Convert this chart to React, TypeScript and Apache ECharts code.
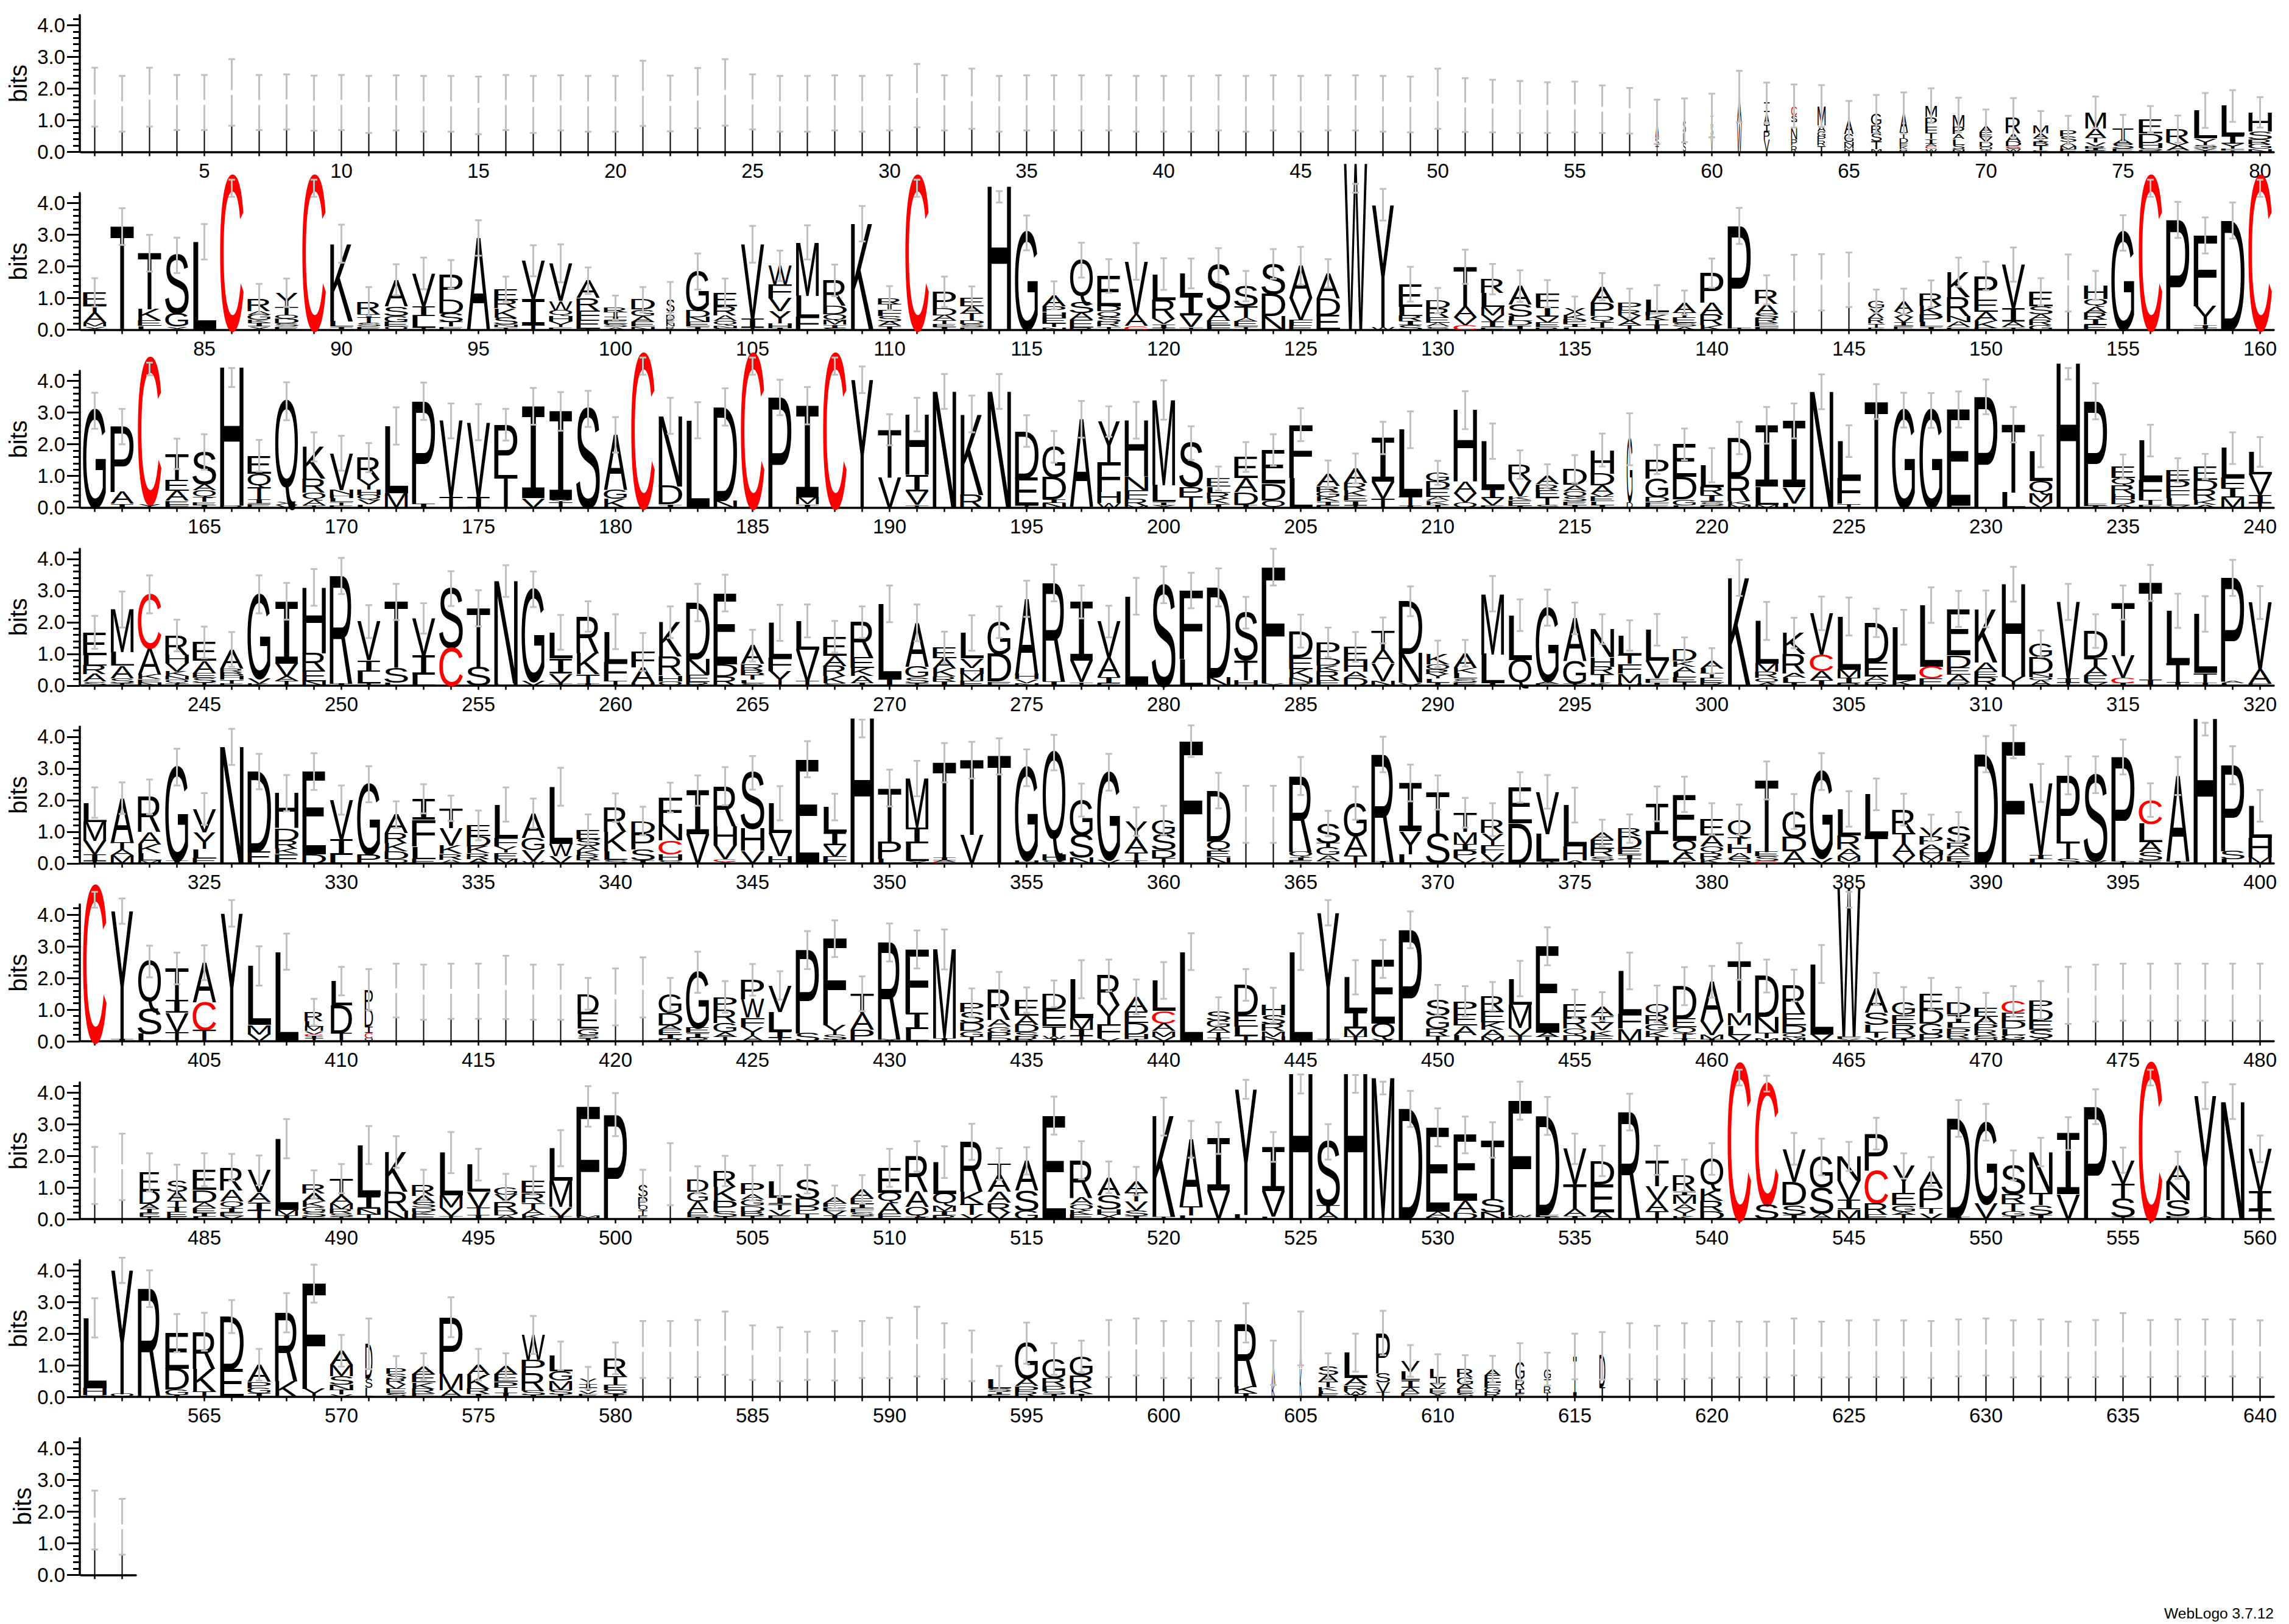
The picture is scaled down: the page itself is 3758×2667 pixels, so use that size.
import React, { useEffect, useRef } from "react";
import * as echarts from "echarts";

// Each entry lists one column from top to bottom: letter + height in 1/100 bit. "|n" is a hairline column of height n.
const row1Stacks = ["|173","|152","|173","|156","|156","|188","|156","|158","|154","|156","|150","|155","|152","|152","|147","|156","|150","|155","|152","|152","|185","|153","|170","|188","|158","|152","|152","|155","|152","|155","|178","|155","|168","|152","|155","|155","|155","|155","|152","|152","|152","|155","|152","|155","|152","|155","|155","|152","|150","|168","|148","|145","|142","|140","|142","|135","|130","A50S25T20","S40L30S30","I30S35V50","A85W90","I30A40I20P25V40","C30S20I20N35P20R20","M60A20G15P15R15T20","A45G25N12M10N10","G35R25S25T25M10","A60T20D15E10K10R8","M35P30F20T20I15A8C8W10","M38P22A15L18S15N8","A20E15V15D15Q12S5","R50A25D15C5S5W8","M25A15I12B12T15E5","P20S18A12M10F5E4","M50A30T15V12R8I6E4","T35A15S15E10","E45D30H15S8R5","R42V10A15T5","L88Y20S8I5V5T5","L95I25Y15F5T5","H60S25R15G15N10"];
const row1Err = [.93,.88,.93,.87,.87,1.05,.87,.87,.87,.87,.9,.87,.88,.88,.91,.87,.9,.87,.88,.88,1.03,.88,.95,1.05,.87,.88,.88,.87,.88,.87,1,.87,.95,.88,.87,.87,.87,.87,.88,.88,.88,.87,.88,.87,.88,.87,.87,.88,.88,.95,.85,.83,.82,.8,.8,.75,.72,.7,.69,.69,.81,.64,.68,.66,.59,.6,.65,.55,.55,.52,.62,.45,.45,.5,.42,.42,.43,.55,.5,.48];
const row2Stacks = ["E42T22A32M12X10","T326","T176K36E18L12","S183G42X10","L278","C484","R38A12G16K10I12X10","Y45T24Q14D14S10E10","C484","K244L18I10","R40I12T16S12E10","A84S30G20E14Q10","V104I30L36T8","P79D44S28T14E10","A290","E34R26K30S22N8T8","V122I82T14","V118W30Q18H18Y18E8","A55R38F30E28T4","R14T14I12E12S10A8","D31G20A20E14N10","S38I10D16E10N10R10","G122D22N16E14I10","E42R28A18Q14N8S6","V236I28T6","W58F44V42Y38H14I6","M168L66F42","R80D26Q20M14I10S6","K335","R20T16F20S18A14I12","C484","P52D22A16T12E10I8","E26A22T22D12S10E8","H453","G306","A35P18H20E16T12N8","Q132S34A22E24R8","E96D16Q18S16R14T10","V168A36C12","L82R58V18I12T6","L68I64V38T8","S140A36E14F14","S64T36A12E16T10","S94D70N44","A102V70F16E14","A78D54E46","W525","Y385W10","E70L30R16I14S14","D24R28E18A12S10","T126A34V24C15","R44L44M26V22I16E8","A58S38L14D14I14","F42I30V20E14R8","X22K14P14I10L8","A50P42Q18T18E8","P22R16V18A14T14","L38F12K16T14I16","A32T16E16S12A10","P93A38R34K14","P322T6","R44A32S14R14E12F10","|147","|150","|158","G22X30R18T12E8","A32X18V16I12E12","R38K28P24L14I10","K78R60N20A16E8","P74E38A30K22E6","V138I42A18T8","E46S24A18R18G14","|148","H42Q24A20R22I16E16","G306","C484","P347","F224Y58I10T6","D345","C484"];
const row2Err = [.45,.58,.58,.56,.56,.27,.47,.45,.27,.6,.45,.49,.5,.45,.56,.4,.49,.6,.42,.38,.4,.57,.57,.46,.58,.48,.54,.5,.56,.38,.27,.48,.37,.18,.55,.44,.55,.53,.58,.5,.47,.54,.48,.47,.6,.45,.14,.5,.55,.4,.54,.48,.5,.43,.37,.43,.46,.45,.38,.46,.57,.46,.9,.89,.86,.37,.4,.42,.46,.45,.54,.43,.9,.46,.56,.27,.57,.57,.57,.27];
const row3Stacks = ["G306","P206A38I12","C459Y12","T82E34A32E12F10","S100A20Q24T14E10I8","H436R8","E56Q44T38I14E12","Q316X10V10","K100R44Q22A18T8","V116N14H12L12T10E8","R68Y32H18Q16V14L10","L212M46","P322I14","V240T34","V236I34","P158T104","I290V30","I280Y8T16","S312","A174G28K28","C484","N222D58I10","L276","D296N22","C484","P348","I290M22I10","C484","Y404","T150V96","H190I52V44T8","N367","K254R42","N367","D148E88T6","G96D70I12N14","A274I5","Y130F92H36W14","H178N44F26R22M6","M268L54I10X8","S138P30T36","E26L18R20K16I12","E66A44D40I10","E106D52Q24","F168L94","A38R18G16K14I12E8","A46R22K20E14I14T8","I138V54T28","L210T30I6","G26D24E26A12K12I10","H226A36V30Q16","L152I28V22E8","R50V50K12E18I6","A26R20E22T22S10","D50A20Q18S14E12I8","H74D38A26V10E14L12I8","G200D16","P60G60D14F10E8","E102D72G18L8","L68R26I22S10E8","D120R78K12M10","I194L56M10","I210V50L14","N366","L118F80T12","T335","G308","G307","E302F8","P350","T214L48","L94Q40M28V16","H456","P322E8I6","E36Q24R26H18D16A10","L124F64T14E10","E32P32F24L22V8","E42D32R32K14A10","L92F34I30M32","L70V66I26T14"];
const row3Err = [.57,.56,.2,.48,.56,.3,.5,.6,.46,.55,.46,.59,.59,.55,.57,.5,.58,.61,.57,.56,.27,.57,.57,.59,.27,.56,.59,.27,.42,.49,.53,.55,.58,.55,.5,.5,.58,.48,.58,.62,.53,.38,.47,.5,.52,.43,.47,.51,.58,.38,.6,.56,.45,.37,.44,.52,.82,.46,.5,.54,.51,.58,.55,.55,.5,.55,.55,.55,.57,.55,.56,.5,.18,.57,.38,.5,.38,.4,.5,.47];
const row4Stacks = ["E72L32R28A24S12","M134L44A40S14T8","C170A84K14E10N10","R62H26V26K14N12Q10T8","E58A40E14S14T10","A60R12B12H12T12E6","G264V18K6","I196V42A14T14","H206R56E34N14","R340I6","V122I36L36T8","T208S46L10","V118I60L34","S186C120","T186S58","N322H8","G290V14","L82I48V30T8","R116K66T30I6","L96F60T14","F48A50H8","K108R60H18Q14","D178N50E22R12","E224D40R28","A58R20B16T14L10S8","L110F42Y46","L90V100T14","E60A32R32K22S8","R110E34K26A22I8","L238I20","A138G34S18T8","E34A32K26R14I14","L80V30H20M22E14","G100D88E12","A238H16V12N8","R310I14","I186V68T10","V114A62I18E8","L282","S318","F216L84","D284N26","S150T62H18","F366Y8","D84E36K28N14R10","P50D22K18R28E18","E44H34A20D24","T62A42V56N14","D166N92V8","K32Q18R14Y14L12I10","A46K18L16S12E10","M190L92I8","L140Q82","G232A8E6","A136G70T6","N88H30R24T26K10","L62T28F30M30H8","L98V56F12I10","D36K18A20L14E14T12","A24L16T14E14R10","K340","L134M26R20Q14A10","K66R62A14L14I10","V130C52A30I16","L168M26I16R8","D124E46A16R12","L166K18","L194C38E22","E146D40E22A24R10","K168A30E18R26","H292Y28","G42D52N12Q10A16","V240I14T10","D86T28A26E22V10","T168V70C16I8","T306I18","L166T58I12","L186T30I10","P326A6L8","V210A46E6"];
const row4Err = [.52,.57,.6,.5,.5,.55,.6,.58,.58,.57,.52,.57,.48,.55,.57,.5,.56,.55,.48,.55,.6,.5,.59,.58,.5,.57,.52,.5,.5,.58,.58,.5,.56,.5,.57,.58,.52,.5,.58,.58,.56,.6,.5,.58,.52,.47,.47,.41,.47,.42,.42,.56,.5,.57,.5,.47,.48,.5,.38,.4,.57,.6,.48,.53,.6,.45,.55,.56,.57,.58,.55,.42,.57,.53,.54,.57,.54,.56,.57,.52];
const row5Stacks = ["L60M60V44I20T8","A140T22A20M24","R110A40K28L22M10","G296I8","V74Y52L30E16","N368","D252E38","H110D40R26K16E30","E260D30","V124I50L26","G222P28","A58R32K26D24Q14","I66F84L40E14","T62V56K26R18A12","E34D32K22R18A14","L106F26Y20E20M14","A76G40V34W8","L180W40V22","E30S22A16K14R14T12","R76K62L26S12","D40P50S34I10","F84N52C42H20S10","I138V92","R126H60V44C8Y6","S176H70V40","L94V74H22","E329","L80I40V36F22","H459","T168P56L14","M154I50L56X8","T300I8A6C4","T236V90","T338","G292H10","Q320H20S10","G110S70N20","G276V12","Y54A44T26I8","G44S50D24T18","F386","D160Q30E20N20","|155","|155","R238Q18I10E10","S62T14G24A18T8","G104A62T24","R338I6","I152Y72L30","T132S92","T60M40I18P24V18","R42Y40F24V26Q6","E112D128","V132L88A6","L130H44A10","A22E28R24S12I10","R24D38E20I14T14","I96L92","E146Q38A26K8","E52A34Q20R20K14","Q56T22H28A16S16","T226E14S14C8","G80D46A38","G272V18","L84R44A22M14V8","L132T86","R74T36A36V24","V26P26A20H14M14W12","S50R20A22E18I6","D345","F384","V226I14L14","P208T56S14","S270V10","P330I6","C74L58A32S26E10","A270I6","H457","P270S26L14","L100H62M20"];
const row5Err = [.48,.5,.55,.58,.5,.57,.56,.57,.58,.46,.57,.42,.46,.4,.47,.54,.47,.6,.47,.45,.45,.47,.48,.6,.53,.54,.57,.42,.28,.58,.56,.62,.58,.57,.58,.56,.52,.58,.45,.46,.5,.56,.9,.9,.6,.4,.52,.56,.58,.54,.47,.52,.48,.53,.55,.42,.45,.55,.56,.5,.48,.6,.55,.58,.56,.5,.5,.42,.46,.57,.52,.6,.6,.58,.55,.53,.6,.2,.6,.5];
const row6Stacks = ["C490","Y405I6","Q150S78L24","T100I40V60T30","A124C88T36","Y400I4","L186M30V22","L283","R28L18M14V10C6I6T10","L76D88T26","P62D55I18C18Q10","|160","|155","|158","|158","|170","|155","|155","D62E48G20S10I10","|140","|170","G60D38A14E14I14R8","G176E16I14R12","P40R42G30A14T14","P62W58F30Y26A18","V84L62I18T12","P262S26","F272Y32S14I6","T62A52P36","R306X6","F200I52L38","M280I10","P30S34D26G18T14","R96A22G18P16D12","E50A28D24S14R14","D50E52T30W10I8","L122M36I20T18","R92Y62F44V10","A46E36D36H14T8","L96C40A24M18V14","L283","S28G22A16T16I12","D96E36L28T18","H32S28R22M18N14","L283","Y400I6","L108I54M26T14","E202Q52V6","P352","S50G40R24T16","P40E36A30L20","R46E36K24A22M14","L82M74V24T18","E272A14T14","E44R34Q20D20","A30I22V24K18E16","L136F46M40","Q34R30G20K20T14","D102E28Q20T14I10","A124V44M14I6","T162M40L30V20","D130N50T16M10","R88E38D24Q14M12","L222V22","W470F8Y8","A76S38L24T16V12","G40E30R30D14I10","E50D44G34P22","D38I26L16P18R14S10","E30A24P18R16S12Q8","C36E26D24L20G14B6","P30D34E30S26A10","|145","|152","|155","|155","|155","|155","|155","|155"];
const row6Err = [.25,.4,.5,.5,.55,.42,.62,.57,.42,.45,.65,.85,.87,.87,.87,1,.87,.87,.5,.9,.95,.52,.65,.5,.5,.45,.6,.58,.55,.6,.6,.63,.45,.55,.4,.42,.6,.5,.55,.58,.58,.45,.5,.55,.58,.4,.54,.6,.58,.48,.48,.45,.56,.6,.45,.45,.58,.58,.6,.5,.58,.52,.5,.6,.25,.5,.47,.5,.48,.45,.48,.6,.9,.9,.9,.9,.9,.9,.9,.9];
const row7Stacks = ["|138","|165","E58D42A14I14E12T8","S34A30T20I16E14E8","E64D40A18E14I12L8","R72A36Q20I14E12V10","V70A30I26T28","L224M18I12","R28A26K18G16S14E8","T54A26M16R14S10T8","L160I40N20T14","K124R62N26","R34A22S16D12K10E14","L134M40V26T10","L86V50T22I14","G22V22R30D14A12","E40R30T20A18K14","L102M84V30I8","F346M6Y4","P330","S36P28Q16T14E12","|142","D38G30A36E14I6","R50K44P34S16T8","P34A18G20D18B14T10","L50I22T18V18E12","S62D24P22T18","A20F12E12V14I12","A28E18I14F12S12T10","E78Q32A36F16","R112A48Q30T8","L100Q36M18I14R12","R156K40T34V14","T34A54A34R30V22","A94S64G26","E327","R118A22Q18K14E14","A56S44H18X14","A34T30V28S18I10","K316T8","A210T30L12","I166V90","Y396L14","I140V80L8","H460","S200T22A22","H460","M447","D348","E266A18N6","E208A38D20","T186S42N22","F362W6E6","D312E8I6","V112T78A22I10","D74E88A22","R338","T82V44A36T24","R50I12M28A18Y20K10","Q94K38R34D24","C490","C382S46","V104D74S30I14","G96S82A18","N76V62I30M30","P116C104R36E14","Y86E38G20A10T14","A54P60T18V18","D312I6","G256V50","S90R30T26G14I10","N128T40S30I14","I192V78","P355","V74T46S60T6","C492","A52N58S50E10","Y384A6","N371","V136I60T26"];
const row7Err = [.9,1.05,.6,.5,.52,.42,.47,.62,.44,.46,.6,.5,.48,.65,.5,.43,.45,.57,.64,.68,.5,.98,.43,.48,.55,.5,.45,.36,.45,.6,.48,.5,.57,.5,.43,.6,.6,.5,.45,.6,.58,.5,.3,.47,.3,.56,.28,.2,.57,.6,.58,.56,.6,.6,.48,.48,.58,.46,.5,.5,.25,.25,.5,.58,.46,.5,.4,.46,.58,.58,.47,.45,.52,.55,.4,.25,.43,.42,.55,.42];
const row8Stacks = ["L222H22Q6","Y390Q10","R342","E112D66G18I6","R116K72T18","D166E88","A54P20G16I12","R216K50","F332Y26","A46M34S26N18T14V8","D110S30L28","P18S18R16V14E14S12","A24E26K20R14E12","P178M52A22","A32K44R16I10","A26E24P18T16I14","W78P42R56S14I6","L48G30M30S14I8","Y18I12T10V10E10","R56T26E18Q14I8","|150","|150","|153","|170","|140","|135","|130","|130","|150","|155","|175","|145","|130","L30S10I10E8","G112A24P18R16","G62R24P16S10I8","G60R38K20I10","|153","|158","|150","|150","|150","R200K22I12","A68K40","A95K90","S26A22T16K12L10E10","L80A24R18W12I6","P126S30V32T14","V34L26I24A18E12","L28I18V16E14X12","R26G22A14E14S12","A20E22F16G16R14","G54R30I14E12","G30I24R20T14","I128","D100I30","|145","|140","|145","|150","|150","|150","|158","|150","|152","|153","|152","|150","|155","|158","|152","|155","|150","|153","|165","|153","|155","|155","|155","|152"];
const row8Err = [.62,.4,.58,.6,.6,.52,.5,.62,.6,.5,.8,.37,.42,.63,.5,.4,.6,.45,.35,.5,.9,.9,.9,1,.86,.85,.76,.78,.9,.95,1.1,.88,.8,.4,.65,.5,.5,.9,.9,.9,.9,.9,.62,.7,.85,.42,.6,.7,.5,.47,.44,.42,.6,.52,.72,.75,.88,.85,.88,.9,.88,.88,.9,.88,.9,.9,.9,.9,.9,.9,.9,.9,.88,.9,1,.9,.9,.9,.9,.9];
const row9Stacks = ["|173","|152"];
const row9Err = [.93,.88];

// Columns narrower than a full stack: position and its share of the full width.
const partialPositions = [58,59,60,61,62,63,64,65,66,67,68,69,70,71,72,73,74,75,102,146,147,217,409,410,411,419,483,484,501,503,571,572,579,604,605,606,608,609,610,611,612,613,614,615,616];
const partialWidths = [.15,.12,.1,.2,.25,.25,.35,.4,.45,.35,.5,.5,.55,.65,.65,.7,.9,.9,.35,.7,.85,.25,.8,.9,.35,.9,.85,.85,.4,.9,.3,.85,.8,.15,.1,.85,.6,.8,.7,.7,.7,.4,.3,.15,.25];

const rowStacks = [row1Stacks,row2Stacks,row3Stacks,row4Stacks,row5Stacks,row6Stacks,row7Stacks,row8Stacks,row9Stacks];
const rowErr = [row1Err,row2Err,row3Err,row4Err,row5Err,row6Err,row7Err,row8Err,row9Err];
const yMajorTicks = [0,1,2,3,4];
const yMinorTicks = [.2,.4,.6,.8,1.2,1.4,1.6,1.8,2.2,2.4,2.6,2.8,3.2,3.4,3.6,3.8,4.2];

const FONT = "Liberation Sans";
const MONO = "Liberation Mono";
const W = 3758, H = 2667;
const Y_MAX = 4.32;

// Ink extents (em) of the capitals, so a glyph fills the column exactly.
const INK: Record<string,[number,number]> = {
  A:[0,.667],B:[.08,.62],C:[.05,.68],D:[.08,.67],E:[.08,.62],F:[.08,.57],G:[.05,.72],H:[.08,.64],I:[.09,.51],
  K:[.07,.665],L:[.07,.52],M:[.07,.76],N:[.08,.64],P:[.08,.62],Q:[.04,.74],R:[.08,.7],S:[.05,.62],T:[.02,.59],
  V:[0,.667],W:[0,.944],X:[0,.667],Y:[0,.667],
};
// Glyph height (em) and how far its centre sits below the font's central line (em).
function glyphMetrics(ch: string): [number, number] {
  if (ch === "I") return [.66, -.0635];
  if (ch === "Q") return [.808, .0625];
  return [.688, 0];
}

function parseStack(s: string): [string, number][] {
  const out: [string, number][] = [];
  const re = /([A-Z])(\d+)/g;
  let m: RegExpExecArray | null;
  while ((m = re.exec(s))) out.push([m[1], +m[2] / 100]);
  return out;
}

function buildOption() {
  const grid: any[] = [], xAxis: any[] = [], yAxis: any[] = [], series: any[] = [];
  let first = 1;
  rowStacks.forEach((stacks, r) => {
    const zero = 249.5 + 292.1 * r;
    const n = r === 8 ? 2 : 80;
    const start = first;
    first += n;
    grid.push({ left: 133, top: zero - Y_MAX * 52, width: n * 45, height: Y_MAX * 52 });
    xAxis.push({
      type: "category", gridIndex: r, boundaryGap: true,
      data: stacks.map((_, i) => String(start + i)),
      axisLine: { show: true, onZero: false, lineStyle: { color: "#000", width: 3.5 } },
      axisTick: { show: true, alignWithLabel: true, interval: 0, length: 7, lineStyle: { color: "#000", width: 2.5 } },
      axisLabel: {
        show: r !== 8, margin: 14, fontSize: 33, fontFamily: FONT, color: "#000",
        interval: (_: number, v: string) => +v % 5 === 0,
      },
      splitLine: { show: false },
    });
    yAxis.push({
      type: "value", gridIndex: r, position: "left", offset: 2, min: 0, max: Y_MAX, name: "bits", nameLocation: "middle", nameRotate: 90, nameGap: 73,
      nameTextStyle: { fontSize: 40, fontFamily: FONT, color: "#000" },
      axisLine: { show: true, onZero: false, lineStyle: { color: "#000", width: 3.5 } },
      axisTick: { show: true, length: 21, customValues: yMajorTicks, lineStyle: { color: "#000", width: 3 } },
      axisLabel: { show: true, margin: 24, customValues: yMajorTicks, fontSize: 33, fontFamily: FONT, color: "#000", formatter: (v: number) => v.toFixed(1) },
      splitLine: { show: false },
    });
    yAxis.push({
      type: "value", gridIndex: r, position: "left", offset: 2, min: 0, max: Y_MAX,
      axisLine: { show: false },
      axisTick: { show: true, length: 11, customValues: yMinorTicks, lineStyle: { color: "#000", width: 3 } },
      axisLabel: { show: false },
      splitLine: { show: false },
    });
    const errs = rowErr[r];
    series.push({
      type: "custom", xAxisIndex: r, yAxisIndex: r * 2, coordinateSystem: "cartesian2d", silent: true, clip: false,
      data: stacks.map((_, i) => [i]),
      renderItem: (params: any, api: any) => {
        const i = params.dataIndex;
        const s = stacks[i];
        const e = errs[i];
        const pos = start + i;
        const children: any[] = [];
        const cx = api.coord([i, 0])[0];
        const y0 = api.coord([i, 0])[1];
        const bit = y0 - api.coord([i, 1])[1];
        const band = api.size([1, 0])[0];
        const thin = s[0] === "|";
        let total = 0;
        if (thin) {
          total = +s.slice(1) / 100;
          const lo = total - e;
          children.push({ type: "line", shape: { x1: cx, y1: y0, x2: cx, y2: y0 - lo * bit }, style: { stroke: "#000", lineWidth: 2 } });
        } else {
          const letters = parseStack(s);
          const k = partialPositions.indexOf(pos);
          const w = band * .85 * (k >= 0 ? partialWidths[k] : 1);
          for (const [, h] of letters) total += h;
          let top = total;
          for (const [ch, h] of letters) {
            const ink = INK[ch] || INK.A;
            const [cap, shift] = glyphMetrics(ch);
            const sx = w / ((ink[1] - ink[0]) * 100);
            const hPx = h * bit;
            const sy = hPx / (cap * 100);
            const cy = y0 - (top - h / 2) * bit;
            children.push({
              type: "text", silent: true,
              x: cx - w / 2 - ink[0] * 100 * sx,
              y: cy - shift * 100 * sy,
              scaleX: sx, scaleY: sy,
              style: {
                text: ch, fontSize: 100, fontFamily: ch === "I" ? MONO : FONT,
                fill: ch === "C" ? "#ff0000" : "#000",
                align: "left", verticalAlign: "middle",
              },
            });
            top -= h;
          }
        }
        const c = total > 4.35 ? Math.min(total - .33, 4.47) : total;
        const lo = y0 - (c - e) * bit, hi = y0 - (c + e) * bit, mid = y0 - c * bit;
        const gray = { stroke: "#c0c0c0", lineWidth: 3 };
        if (thin) {
          children.push({ type: "line", shape: { x1: cx, y1: lo, x2: cx, y2: mid + 4 }, style: gray });
          children.push({ type: "line", shape: { x1: cx, y1: mid - 4, x2: cx, y2: hi }, style: gray });
        } else {
          children.push({ type: "line", shape: { x1: cx, y1: lo, x2: cx, y2: hi }, style: gray });
        }
        children.push({ type: "line", shape: { x1: cx - 5.5, y1: lo, x2: cx + 5.5, y2: lo }, style: gray });
        children.push({ type: "line", shape: { x1: cx - 5.5, y1: hi, x2: cx + 5.5, y2: hi }, style: gray });
        return { type: "group", children };
      },
    });
  });
  return {
    animation: false,
    backgroundColor: "#fff",
    grid, xAxis, yAxis, series,
    graphic: [{
      type: "text", right: 25, top: 2637,
      style: { text: "WebLogo 3.7.12", fontSize: 24.6, fontFamily: FONT, fill: "#000" },
    }],
  };
}

export default function App() {
  const ref = useRef<HTMLDivElement>(null);
  useEffect(() => {
    const chart = echarts.init(ref.current!, undefined, { renderer: "svg" });
    chart.setOption(buildOption() as any);
    return () => chart.dispose();
  }, []);
  return <div ref={ref} style={{ position: "absolute", left: 0, top: 0, width: W, height: H }} />;
}
